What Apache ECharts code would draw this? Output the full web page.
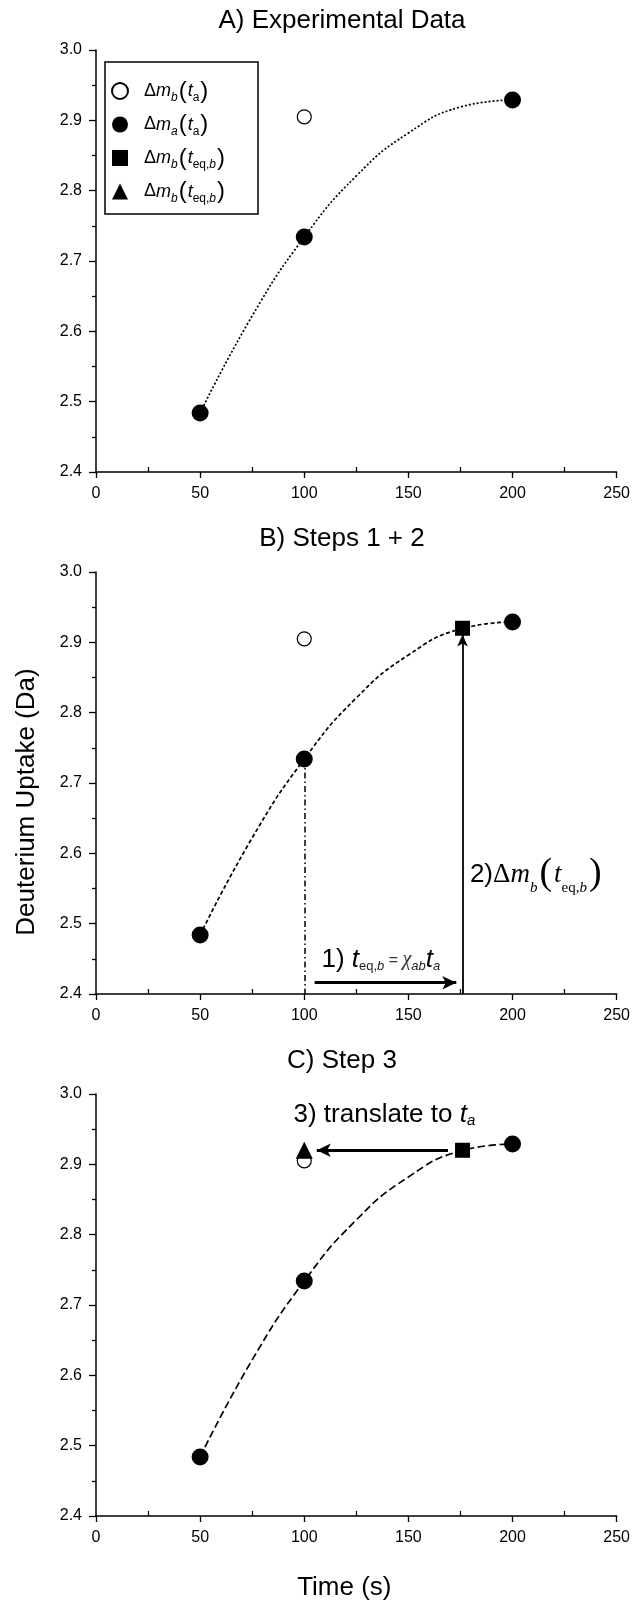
<!DOCTYPE html>
<html><head><meta charset="utf-8">
<script src="https://cdn.jsdelivr.net/npm/echarts@6/dist/echarts.min.js"></script>
<style>html,body{margin:0;padding:0;background:#fff}#c{width:633px;height:1602px}</style>
</head><body><div id="c"></div>
<script>
// ---- data ----
const panelTitles = ['A) Experimental Data', 'B) Steps 1 + 2', 'C) Step 3'];
const xMin = 0, xMax = 250, xStep = 50;
const yMin = 2.4, yMax = 3.0, yStep = 0.1;
const xMinorInside = [25, 75, 125, 175, 225];
// measured points: Δm_a(t_a)
const timeA = [50, 100, 200];
const uptakeA = [2.484, 2.734, 2.929];
// Δm_b(t_a) open circle
const timeB = [100];
const uptakeB = [2.905];
// Δm_b(t_eq,b) square
const timeEq = [176];
const uptakeEq = [2.92];
// translated Δm_b(t_eq,b) triangle
const timeTri = [100];
const uptakeTri = [2.92];
// fitted curve through Δm_a
const fitTime = [50, 75, 100, 125, 150, 175, 200];
const fitUptake = [2.484, 2.622, 2.734, 2.821, 2.882, 2.919, 2.929];
// annotation anchors (data coords)
const note1 = [108, 2.448];
const note2 = [179.3, 2.57];
const note3 = [94.6, 2.97];
const dashDot = [[100, 2.734], [100, 2.4]];
const arrow1 = [[105, 2.416], [173, 2.416]];
const arrow2 = [[176, 2.4], [176, 2.911]];
const arrow3 = [[169, 2.92], [106, 2.92]];

// ---- layout ----
const FF = '"Liberation Sans", Arial, Helvetica, sans-serif';
const SERIF = '"Liberation Serif", "Times New Roman", serif';
const gridTops = [50, 572, 1094];
const gridH = 422, gridL = 96, gridW = 521;
const titleY = [21, 539, 1061];
const dashes = [[2, 2], [4, 2.5], [7.5, 3.5]];

const pts = (xs, ys) => xs.map((x, k) => [x, ys[k]]);

const R = {
  sp: {width: 11, fontSize: 10},
  d: {fontSize: 18, fontFamily: FF, color: '#000'},
  i: {fontSize: 18, fontFamily: FF, fontStyle: 'italic', color: '#000'},
  sbi: {fontSize: 12, fontFamily: FF, fontStyle: 'italic', color: '#000', verticalAlign: 'bottom'},
  sbu: {fontSize: 12, fontFamily: FF, color: '#000', verticalAlign: 'bottom'},
  p: {fontSize: 24, fontFamily: FF, color: '#000', lineHeight: 26, padding: [0, 1, 0, 1]},
  // annotation styles
  a: {fontSize: 26, fontFamily: FF, color: '#000'},
  ti: {fontSize: 26, fontFamily: FF, fontStyle: 'italic', color: '#000'},
  su: {fontSize: 13, fontFamily: FF, color: '#222', verticalAlign: 'bottom'},
  sui: {fontSize: 13, fontFamily: FF, fontStyle: 'italic', color: '#222', verticalAlign: 'bottom'},
  sua: {fontSize: 15, fontFamily: FF, fontStyle: 'italic', color: '#000', verticalAlign: 'bottom'},
  eq: {fontSize: 16, fontFamily: FF, color: '#333'},
  chi: {fontSize: 20, fontFamily: SERIF, fontStyle: 'italic', color: '#333'},
  sd: {fontSize: 27, fontFamily: SERIF, color: '#000'},
  sm: {fontSize: 27, fontFamily: SERIF, fontStyle: 'italic', color: '#000'},
  ssb: {fontSize: 15, fontFamily: SERIF, fontStyle: 'italic', color: '#000', verticalAlign: 'bottom'},
  ssu: {fontSize: 15, fontFamily: SERIF, color: '#000', verticalAlign: 'bottom'},
  sp2: {fontSize: 38, fontFamily: SERIF, color: '#000', lineHeight: 42, padding: [0, 2, 0, 2]}
};

const legendText = {
  open: '{sp| }{d|Δ}{i|m}{sbi|b}{p|(}{i|t}{sbu|a}{p|)}',
  filled: '{sp| }{d|Δ}{i|m}{sbi|a}{p|(}{i|t}{sbu|a}{p|)}',
  square: '{sp| }{d|Δ}{i|m}{sbi|b}{p|(}{i|t}{sbu|eq,}{sbi|b}{p|)}',
  triangle: '{sp| }{d|Δ}{i|m}{sbi|b}{p|(}{i|t}{sbu|eq,}{sbi|b}{p|)}'
};

const xAxes = [], yAxes = [], grids = [], series = [];
for (let i = 0; i < 3; i++) {
  grids.push({left: gridL, top: gridTops[i], width: gridW, height: gridH});
  xAxes.push({
    type: 'value', gridIndex: i, min: xMin, max: xMax, interval: xStep, position: 'bottom',
    axisLine: {show: true, onZero: false, lineStyle: {color: '#000', width: 1.5}},
    axisTick: {show: true, length: 6, lineStyle: {color: '#000', width: 1.3}},
    axisLabel: {fontSize: 16, color: '#000', margin: 14, fontFamily: FF},
    splitLine: {show: false},
    name: i === 2 ? 'Time (s)' : '',
    nameLocation: 'middle', nameGap: 59,
    nameTextStyle: {fontSize: 26, color: '#000', fontFamily: FF, padding: [0, 24, 0, 0]}
  });
  xAxes.push({
    type: 'value', gridIndex: i, min: xMin, max: xMax, interval: xStep, position: 'bottom',
    axisLine: {show: false},
    axisTick: {show: true, inside: true, length: 5, customValues: xMinorInside, lineStyle: {color: '#000', width: 1.3}},
    axisLabel: {show: false},
    splitLine: {show: false}
  });
  yAxes.push({
    type: 'value', gridIndex: i, min: yMin, max: yMax, interval: yStep,
    axisLine: {show: true, onZero: false, lineStyle: {color: '#000', width: 1.5}},
    axisTick: {show: true, length: 7, lineStyle: {color: '#000', width: 1.3}},
    minorTick: {show: true, splitNumber: 2, length: 4, lineStyle: {color: '#000', width: 1.3}},
    axisLabel: {fontSize: 16, color: '#000', margin: 14, fontFamily: FF, formatter: v => v.toFixed(1)},
    splitLine: {show: false},
    name: i === 1 ? 'Deuterium Uptake (Da)' : '',
    nameLocation: 'middle', nameGap: 56,
    nameTextStyle: {fontSize: 26, color: '#000', fontFamily: FF, padding: [0, 38, 0, 0]}
  });

  const xi = 2 * i;
  const marks = [];
  if (i === 1) {
    marks.push([{coord: dashDot[0], symbol: 'none', lineStyle: {type: [6, 3, 1.5, 3], width: 1.5, color: '#000'}}, {coord: dashDot[1], symbol: 'none'}]);
    marks.push([{coord: arrow1[0], symbol: 'none', lineStyle: {type: 'solid', width: 3, color: '#000'}}, {coord: arrow1[1], symbol: 'arrow', symbolSize: [10, 14]}]);
    marks.push([{coord: arrow2[0], symbol: 'none', lineStyle: {type: 'solid', width: 1.8, color: '#000'}}, {coord: arrow2[1], symbol: 'arrow', symbolSize: [8, 12]}]);
  }
  if (i === 2) {
    marks.push([{coord: arrow3[0], symbol: 'none', lineStyle: {type: 'solid', width: 3, color: '#000'}}, {coord: arrow3[1], symbol: 'arrow', symbolSize: [10, 14]}]);
  }
  series.push({
    type: 'line', name: 'fit', xAxisIndex: xi, yAxisIndex: i, data: pts(fitTime, fitUptake),
    smooth: 0.5, symbol: 'none', showSymbol: false, silent: true, z: 2,
    lineStyle: {color: '#000', width: 1.7, type: dashes[i]},
    markLine: marks.length ? {silent: true, animation: false, label: {show: false}, symbol: ['none', 'none'], data: marks} : undefined
  });
  series.push({
    type: 'scatter', name: 'open', xAxisIndex: xi, yAxisIndex: i, data: pts(timeB, uptakeB),
    symbol: 'circle', symbolSize: 14, z: 4,
    itemStyle: {color: '#fff', borderColor: '#000', borderWidth: 1.2, opacity: 1}
  });
  series.push({
    type: 'scatter', name: 'filled', xAxisIndex: xi, yAxisIndex: i, data: pts(timeA, uptakeA),
    symbol: 'circle', symbolSize: 17, z: 5, itemStyle: {color: '#000', opacity: 1}
  });
  if (i >= 1) {
    series.push({
      type: 'scatter', name: 'square', xAxisIndex: xi, yAxisIndex: i, data: pts(timeEq, uptakeEq),
      symbol: 'rect', symbolSize: 15, z: 5, itemStyle: {color: '#000', opacity: 1}
    });
  }
  if (i === 2) {
    series.push({
      type: 'scatter', name: 'triangle', xAxisIndex: xi, yAxisIndex: i, data: pts(timeTri, uptakeTri),
      symbol: 'triangle', symbolSize: 17, z: 6, itemStyle: {color: '#000', opacity: 1}
    });
  }
}

function noteSeries(id, xi, yi, pos, text) {
  return {
    type: 'scatter', name: id, xAxisIndex: xi, yAxisIndex: yi, data: [pos],
    symbolSize: 1, silent: true, z: 7, itemStyle: {color: 'rgba(0,0,0,0)', opacity: 1},
    label: {show: true, position: 'right', distance: 0, opacity: 1, formatter: () => text, rich: R}
  };
}
series.push(noteSeries('note1', 2, 1, note1,
  '{a|1) }{ti|t}{su|eq,}{sui|b}{eq| = }{chi|χ}{sui|ab}{ti|t}{sui|a}'));
series.push(noteSeries('note2', 2, 1, note2,
  '{a|2)}{sd|Δ}{sm|m}{ssb|b}{sp2|(}{sm|t}{ssu|eq,}{ssb|b}{sp2|)}'));
series.push(noteSeries('note3', 4, 2, note3,
  '{a|3) translate to }{ti|t}{sua|a}'));

const option = {
  animation: false,
  backgroundColor: '#fff',
  textStyle: {fontFamily: FF},
  grid: grids, xAxis: xAxes, yAxis: yAxes, series: series,
  legend: {
    data: ['open', 'filled', 'square', 'triangle'],
    orient: 'vertical', left: 105, top: 62,
    itemWidth: 16, itemHeight: 16, itemGap: 8.5,
    padding: [17, 32, 9.5, 6],
    borderColor: '#000', borderWidth: 1.5, backgroundColor: '#fff',
    selectedMode: false,
    formatter: name => legendText[name],
    textStyle: {rich: R}
  },
  graphic: panelTitles.map((t, i) => ({
    type: 'text', x: 342, y: titleY[i],
    style: {text: t, fontSize: 26, fontFamily: FF, fill: '#000', textAlign: 'center', textVerticalAlign: 'middle'}
  }))
};
const chart = echarts.init(document.getElementById('c'), null, {renderer: 'canvas', width: 633, height: 1602});
chart.setOption(option);
</script>
</body></html>
